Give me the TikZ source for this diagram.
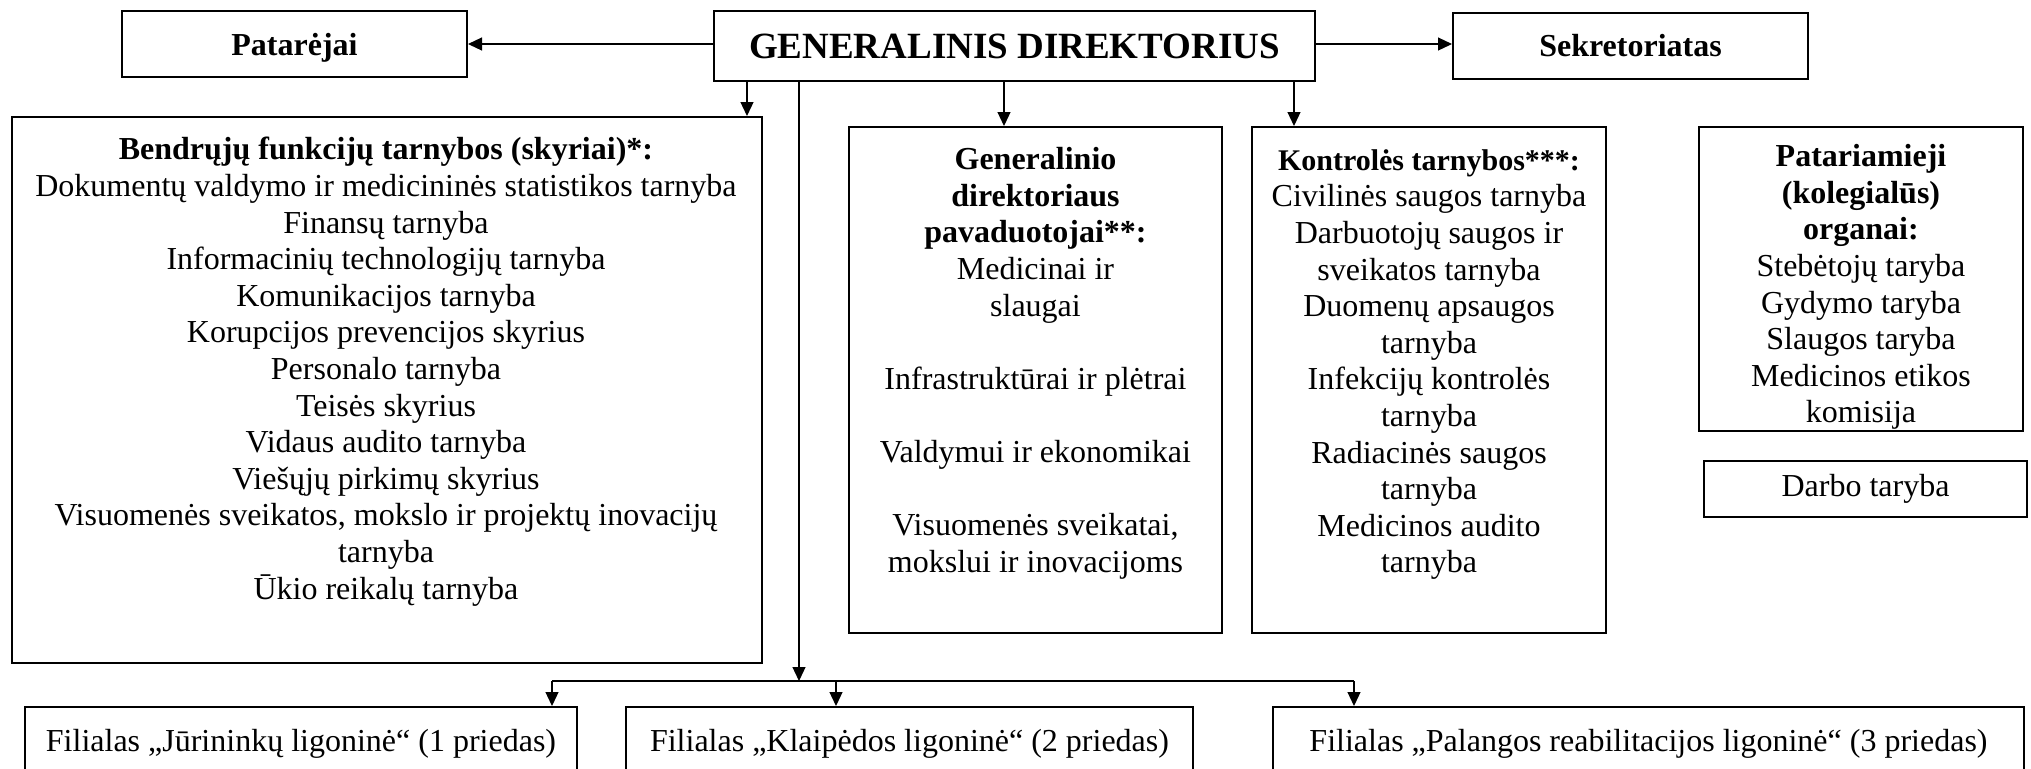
\documentclass[tikz,border=0pt]{standalone}
\usepackage{fontspec}
\setmainfont{Liberation Serif}
\usetikzlibrary{arrows.meta}
\begin{document}
\begin{tikzpicture}[x=0.5pt,y=-0.5pt,
  box/.style={draw, line width=1pt, inner sep=0pt, align=center},
  txt/.style={inner sep=0pt, align=center, anchor=north},
  arr/.style={line width=0.6pt, -{Triangle[length=7pt,width=6.5pt]}},
  ln/.style={line width=0.6pt},
  body/.style={font=\fontsize{16}{18.3}\selectfont},
  bold/.style={font=\fontsize{16}{18.3}\selectfont\bfseries}
]
\useasboundingbox (0,0) rectangle (2031,768);
\clip (0,0) rectangle (2031,768);
% top row
\node[box, bold, text depth=0pt, minimum width=172.5pt, minimum height=33pt] (pat) at (294.5,44) {Patarėjai};
\node[box, font=\fontsize{18.5}{22}\selectfont\bfseries, minimum width=300.5pt, minimum height=35pt] (gen) at (1014.5,46) {GENERALINIS DIREKTORIUS};
\node[box, bold, minimum width=177.5pt, minimum height=33pt] (sek) at (1630.5,46) {Sekretoriatas};
% second row boxes
\node[box, minimum width=375pt, minimum height=273pt] (ben) at (387,390) {};
\node[txt, body] (bent) at (386,137) {\textbf{Bendrųjų funkcijų tarnybos (skyriai)*:}\\
Dokumentų valdymo ir medicininės statistikos tarnyba\\
Finansų tarnyba\\
Informacinių technologijų tarnyba\\
Komunikacijos tarnyba\\
Korupcijos prevencijos skyrius\\
Personalo tarnyba\\
Teisės skyrius\\
Vidaus audito tarnyba\\
Viešųjų pirkimų skyrius\\
Visuomenės sveikatos, mokslo ir projektų inovacijų\\
tarnyba\\
Ūkio reikalų tarnyba};
\node[box, minimum width=186.5pt, minimum height=253pt] (gvd) at (1035.5,380) {};
\node[txt, body] (gvdt) at (1035.5,147) {\textbf{Generalinio}\\
\textbf{direktoriaus}\\
\textbf{pavaduotojai**:}\\
Medicinai ir\\
slaugai\\
~\\
Infrastruktūrai ir plėtrai\\
~\\
Valdymui ir ekonomikai\\
~\\
Visuomenės sveikatai,\\
mokslui ir inovacijoms};
\node[box, minimum width=177pt, minimum height=253pt] (kon) at (1429,380) {};
\node[txt, body] (kont) at (1429,149) {{\fontsize{15}{18.3}\selectfont\bfseries Kontrolės tarnybos***:}\\
Civilinės saugos tarnyba\\
Darbuotojų saugos ir\\
sveikatos tarnyba\\
Duomenų apsaugos\\
tarnyba\\
Infekcijų kontrolės\\
tarnyba\\
Radiacinės saugos\\
tarnyba\\
Medicinos audito\\
tarnyba};
\node[box, minimum width=162pt, minimum height=152pt] (pta) at (1861,279) {};
\node[txt, body] (ptat) at (1861,144) {\textbf{Patariamieji}\\
\textbf{(kolegialūs)}\\
\textbf{organai:}\\
Stebėtojų taryba\\
Gydymo taryba\\
Slaugos taryba\\
Medicinos etikos\\
komisija};
\node[box, body, minimum width=161.5pt, minimum height=28pt] (dar) at (1865.5,489) {Darbo taryba};
% bottom row
\node[box, body, minimum width=276pt, minimum height=37pt] (f1) at (301,744) {Filialas „Jūrininkų ligoninė“ (1 priedas)};
\node[box, body, minimum width=283.5pt, minimum height=37pt] (f2) at (909.5,744) {Filialas „Klaipėdos ligoninė“ (2 priedas)};
\node[box, body, minimum width=375.5pt, minimum height=37pt] (f3) at (1648.5,744) {Filialas „Palangos reabilitacijos ligoninė“ (3 priedas)};
% connectors
\coordinate (c1) at (747,0);
\coordinate (c2) at (1004,0);
\coordinate (c3) at (1294,0);
\coordinate (sp) at (799,681);
\coordinate (bl) at (552,681);
\coordinate (bm) at (836,681);
\coordinate (br) at (1354,681);
\draw[arr] (gen.west |- pat.east) -- (pat.east);
\draw[arr] (gen.east |- pat.east) -- (sek.west |- pat.east);
\draw[arr] (gen.south -| c1) -- (ben.north -| c1);
\draw[arr] (gen.south -| c2) -- (gvd.north -| c2);
\draw[arr] (gen.south -| c3) -- (kon.north -| c3);
\draw[arr] (gen.south -| sp) -- (sp);
\draw[ln] (bl) -- (br);
\draw[arr] (bl) -- (f1.north -| bl);
\draw[arr] (bm) -- (f2.north -| bm);
\draw[arr] (br) -- (f3.north -| br);
\end{tikzpicture}
\end{document}
